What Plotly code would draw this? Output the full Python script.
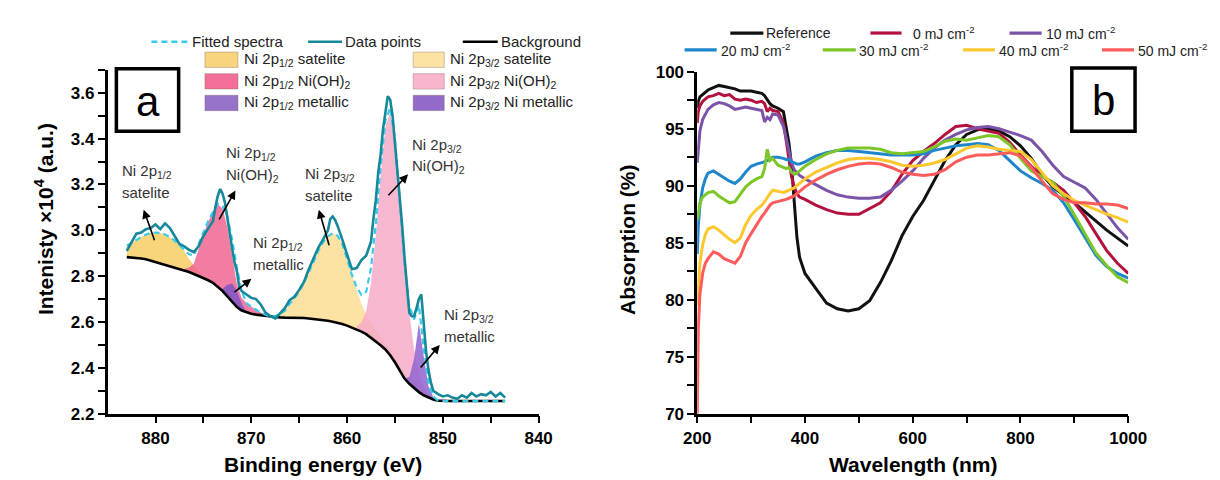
import plotly.graph_objects as go

# ---------------- Panel a : XPS Ni 2p ----------------
energy_grid = [883.0 - 0.5 * i for i in range(80)]  # 883.0 ... 843.5 eV
background = [
    2.883, 2.882, 2.880, 2.877, 2.874, 2.868, 2.862, 2.857, 2.851, 2.844,
    2.837, 2.832, 2.826, 2.818, 2.809, 2.801, 2.792, 2.782, 2.771, 2.755,
    2.735, 2.712, 2.688, 2.665, 2.650, 2.642, 2.636, 2.632, 2.629, 2.626,
    2.623, 2.621, 2.620, 2.619, 2.619, 2.618, 2.618, 2.617, 2.615, 2.613,
    2.611, 2.608, 2.605, 2.601, 2.597, 2.591, 2.584, 2.576, 2.567, 2.558,
    2.547, 2.532, 2.515, 2.498, 2.480, 2.455, 2.424, 2.388, 2.353, 2.330,
    2.311, 2.294, 2.280, 2.270, 2.262, 2.257, 2.255, 2.255, 2.255, 2.255,
    2.255, 2.255, 2.255, 2.255, 2.255, 2.255, 2.255, 2.255, 2.255, 2.255]

# component heights above background
sat12_x = [883.0, 882.5, 882.0, 881.5, 881.0, 880.5, 880.0, 879.5, 879.0, 878.5,
           878.0, 877.5, 877.0, 876.5, 876.0, 875.5, 875.0, 874.5, 874.0]
sat12_h = [0.05, 0.063, 0.08, 0.095, 0.108, 0.12, 0.128, 0.131, 0.131, 0.126,
           0.118, 0.103, 0.084, 0.057, 0.036, 0.019, 0.009, 0.004, 0.0]
oh12_x = [877.0, 876.5, 876.0, 875.5, 875.0, 874.5, 874.0, 873.5, 873.0, 872.5,
          872.0, 871.5, 871.0, 870.5, 870.0, 869.5, 869.0, 868.5]
oh12_h = [0.005, 0.02, 0.045, 0.12, 0.19, 0.255, 0.31, 0.36, 0.36, 0.30,
          0.19, 0.10, 0.055, 0.04, 0.03, 0.02, 0.012, 0.005]
met12_x = [873.0, 872.5, 872.0, 871.5, 871.0, 870.5]
met12_h = [0.01, 0.05, 0.08, 0.07, 0.03, 0.0]
sat32_x = [867.5, 867.0, 866.5, 866.0, 865.5, 865.0, 864.5, 864.0, 863.5, 863.0,
           862.5, 862.0, 861.5, 861.0, 860.5, 860.0, 859.5, 859.0, 858.5, 858.0,
           857.5, 857.0, 856.5, 856.0, 855.5, 855.0, 854.5, 854.0]
sat32_h = [0.005, 0.015, 0.03, 0.06, 0.085, 0.115, 0.155, 0.20, 0.25, 0.30,
           0.34, 0.37, 0.385, 0.38, 0.35, 0.29, 0.23, 0.17, 0.12, 0.085,
           0.065, 0.05, 0.038, 0.028, 0.02, 0.013, 0.007, 0.0]
oh32_x = [859.0, 858.5, 858.0, 857.5, 857.0, 856.5, 856.0, 855.5, 855.0, 854.5,
          854.0, 853.5, 853.0, 852.5, 852.0, 851.5, 851.0]
oh32_h = [0.015, 0.04, 0.10, 0.24, 0.46, 0.74, 0.97, 1.06, 0.96, 0.72,
          0.50, 0.31, 0.17, 0.08, 0.035, 0.012, 0.003]
met32_x = [854.0, 853.5, 853.0, 852.5, 852.0, 851.5, 851.0, 850.5]
met32_h = [0.0, 0.03, 0.13, 0.30, 0.17, 0.05, 0.01, 0.0]

data_x = [883.0, 882.5, 882.0, 881.5, 881.0, 880.5, 880.0, 879.5, 879.0, 878.5,
          878.0, 877.5, 877.0, 876.5, 876.0, 875.5, 875.0, 874.5, 874.0, 873.75,
          873.5, 873.25, 873.0, 872.75, 872.5, 872.25, 872.0, 871.75, 871.5, 871.25,
          871.0, 870.5, 870.0, 869.5, 869.0, 868.5, 868.0, 867.5, 867.0, 866.5,
          866.0, 865.5, 865.0, 864.5, 864.0, 863.5, 863.0, 862.5, 862.0, 861.75,
          861.5, 861.25, 861.0, 860.5, 860.0, 859.5, 859.0, 858.5, 858.0, 857.75,
          857.5, 857.25, 857.0, 856.75, 856.5, 856.25, 856.0, 855.75, 855.5, 855.25,
          855.0, 854.75, 854.5, 854.25, 854.0, 853.75, 853.5, 853.25, 853.0, 852.75,
          852.5, 852.25, 852.0, 851.75, 851.5, 851.25, 851.0, 850.5, 850.0, 849.5,
          849.0, 848.5, 848.0, 847.5, 847.0, 846.5, 846.0, 845.5, 845.0, 844.5,
          844.0, 843.5]
data_y = [2.91, 2.95, 2.985, 2.99, 3.005, 3.01, 3.025, 3.005, 3.03, 3.01,
          2.975, 2.94, 2.93, 2.915, 2.905, 2.93, 2.975, 3.01, 3.04, 3.10,
          3.15, 3.18, 3.16, 3.12, 3.05, 2.97, 2.92, 2.86, 2.82, 2.75,
          2.735, 2.72, 2.705, 2.70, 2.675, 2.64, 2.625, 2.615, 2.64, 2.66,
          2.695, 2.71, 2.74, 2.775, 2.83, 2.88, 2.925, 2.96, 3.00, 3.05,
          3.06, 3.045, 3.02, 2.96, 2.89, 2.83, 2.835, 2.87, 2.89, 2.92,
          2.95, 3.05, 3.13, 3.25, 3.33, 3.44, 3.52, 3.585, 3.57, 3.50,
          3.38, 3.27, 3.15, 3.02, 2.88, 2.75, 2.64, 2.625, 2.625, 2.66,
          2.70, 2.72, 2.60, 2.47, 2.39, 2.335, 2.30, 2.285, 2.275, 2.28,
          2.27, 2.265, 2.28, 2.27, 2.29, 2.275, 2.285, 2.28, 2.295, 2.275,
          2.29, 2.27]

# ---------------- Panel b : absorption ----------------
wavelength = [200, 202, 205, 210, 215, 220, 230, 240, 250, 260, 270, 280, 290, 300,
              310, 320, 325, 330, 335, 340, 350, 360, 365, 370, 375, 380, 385, 390,
              400, 420, 440, 460, 480, 500, 520, 540, 560, 580, 600, 620, 640, 660,
              680, 700, 720, 740, 760, 780, 800, 820, 840, 860, 880, 900, 920, 940,
              960, 980, 1000]
abs_reference = [96.8, 97.4, 97.8, 98.0, 98.2, 98.4, 98.6, 98.8, 98.7, 98.6, 98.5, 98.3, 98.3, 98.3,
                 98.2, 98.1, 97.9, 97.5, 97.2, 97.0, 96.8, 96.5, 95.3, 93.8, 91.8, 88.8, 85.5, 83.7,
                 82.3, 81.0, 79.7, 79.2, 79.0, 79.2, 79.9, 81.5, 83.4, 85.6, 87.3, 88.7, 90.4, 92.2,
                 93.6, 94.5, 94.9, 95.0, 94.8, 94.3, 93.5, 92.4, 91.0, 89.9, 89.2, 88.5, 87.7, 86.9,
                 86.1, 85.4, 84.7]
abs_0 = [95.5, 96.5, 97.0, 97.4, 97.6, 97.8, 97.9, 98.1, 97.9, 98.0, 97.6, 97.5, 97.6, 97.5,
         97.3, 97.4, 97.2, 96.5, 96.8, 96.6, 96.5, 95.5, 94.0, 92.3, 90.8, 89.9, 89.3, 89.0,
         88.8, 88.3, 87.9, 87.6, 87.5, 87.5, 88.0, 88.5, 89.5, 91.0, 92.2, 93.0, 93.7, 94.5,
         95.2, 95.3, 95.0, 94.8, 94.6, 93.8, 92.7, 91.7, 90.8, 90.3, 89.6, 88.5, 87.3, 85.8,
         84.3, 83.2, 82.3]
abs_10 = [92.0, 93.5, 94.8, 95.8, 96.3, 96.7, 97.1, 97.3, 97.2, 97.0, 96.7, 96.8, 96.9, 96.8,
          96.7, 96.6, 95.6, 96.0, 95.8, 96.3, 96.2, 95.2, 94.2, 93.0, 92.0, 91.4, 91.1, 90.9,
          90.6, 90.1, 89.6, 89.2, 89.0, 88.9, 88.9, 89.0, 89.6, 90.4, 91.3, 92.4, 93.3, 94.0,
          94.5, 94.9, 95.1, 95.2, 95.0, 94.7, 94.4, 94.0, 93.0, 91.8, 90.8, 90.3, 89.8, 88.8,
          87.5, 86.3, 85.3]
abs_20 = [84.0, 86.5, 88.3, 89.8, 90.6, 91.1, 91.3, 91.0, 90.7, 90.4, 90.2, 90.6, 91.2, 91.7,
          91.9, 92.0, 92.1, 92.2, 92.3, 92.5, 92.5, 92.4, 92.3, 92.3, 92.1, 92.0, 91.9, 91.9,
          92.1, 92.6, 92.9, 93.1, 93.1, 93.0, 92.9, 92.8, 92.7, 92.7, 92.7, 92.8, 93.1, 93.3,
          93.5, 93.6, 93.7, 93.6, 93.1, 92.2, 91.3, 90.7, 90.2, 89.6, 88.5, 87.0, 85.4, 83.9,
          82.9, 82.3, 81.9]
abs_30 = [87.0, 87.8, 88.5, 89.0, 89.2, 89.4, 89.5, 89.1, 88.8, 88.5, 88.6, 89.3, 89.9, 90.3,
          90.6, 90.8, 91.5, 93.2, 92.2, 92.4, 91.8, 91.6, 91.5, 91.6, 91.2, 91.0, 91.1, 91.3,
          91.7, 92.3, 92.8, 93.1, 93.3, 93.3, 93.3, 93.2, 92.9, 92.8, 92.9, 93.0, 93.4, 93.9,
          94.1, 94.0, 94.2, 94.4, 94.3, 93.6, 92.4, 91.3, 90.8, 90.3, 89.1, 87.4, 85.7, 84.1,
          83.0, 82.0, 81.5]
abs_40 = [79.5, 81.5, 83.2, 84.8, 85.7, 86.2, 86.4, 86.1, 85.7, 85.3, 85.0, 85.4, 86.6, 87.4,
          87.9, 88.3, 88.6, 89.0, 89.3, 89.6, 89.5, 89.4, 89.5, 89.6, 89.7, 89.8, 90.0, 90.2,
          90.6, 91.2, 91.6, 92.0, 92.3, 92.4, 92.4, 92.3, 92.1, 91.8, 91.7, 91.8, 92.0, 92.3,
          92.8, 93.3, 93.5, 93.4, 93.2, 93.1, 93.0, 92.3, 91.2, 90.0, 89.3, 88.7, 88.3, 87.9,
          87.5, 87.2, 86.8]
abs_50 = [70.0, 77.5, 80.5, 82.3, 83.2, 83.6, 84.2, 84.0, 83.6, 83.4, 83.2, 83.8, 85.0, 85.8,
          86.6, 87.3, 87.6, 88.0, 88.3, 88.5, 88.6, 88.7, 88.8, 88.9, 89.0, 89.1, 89.3, 89.5,
          89.9, 90.5, 91.0, 91.4, 91.7, 91.9, 92.0, 91.9, 91.6, 91.2, 91.0, 90.9, 91.0, 91.4,
          92.1, 92.5, 92.7, 92.7, 92.8, 92.9, 92.6, 91.6, 90.4, 89.3, 88.8, 88.5, 88.5, 88.4,
          88.4, 88.3, 88.0]

series_b = [
    ("Reference", abs_reference, "#111111"),
    ("0 mJ cm<sup>-2</sup>", abs_0, "#B3123E"),
    ("10 mJ cm<sup>-2</sup>", abs_10, "#7B54A9"),
    ("20 mJ cm<sup>-2</sup>", abs_20, "#1F86CC"),
    ("30 mJ cm<sup>-2</sup>", abs_30, "#7CC629"),
    ("40 mJ cm<sup>-2</sup>", abs_40, "#FDC72E"),
    ("50 mJ cm<sup>-2</sup>", abs_50, "#FF5B5B"),
]

components = [
    ("Ni 2p<sub>1/2</sub> satelite", sat12_x, sat12_h, "rgba(247,207,105,0.88)", "#F8D47E"),
    ("Ni 2p<sub>3/2</sub> satelite", sat32_x, sat32_h, "rgba(252,222,150,0.88)", "#FCE2A3"),
    ("Ni 2p<sub>1/2</sub> Ni(OH)<sub>2</sub>", oh12_x, oh12_h, "rgba(240,96,142,0.82)", "#F46F98"),
    ("Ni 2p<sub>3/2</sub> Ni(OH)<sub>2</sub>", oh32_x, oh32_h, "rgba(247,170,200,0.85)", "#F9B5CD"),
    ("Ni 2p<sub>1/2</sub> metallic", met12_x, met12_h, "rgba(138,88,196,0.92)", "#9673C9"),
    ("Ni 2p<sub>3/2</sub> Ni metallic", met32_x, met32_h, "rgba(148,102,208,0.88)", "#9369CA"),
]

W, H = 1220, 480


def px(x):
    return x / W


def py(y):
    return 1 - y / H


bg_at = dict(zip(energy_grid, background))
fitted = list(background)
idx = {e: i for i, e in enumerate(energy_grid)}

fig = go.Figure()

for name, cx, ch, fillc, _ in components:
    top = [bg_at[x] + h for x, h in zip(cx, ch)]
    base = [bg_at[x] for x in cx]
    for x, h in zip(cx, ch):
        fitted[idx[x]] += h
    fig.add_trace(go.Scatter(x=cx + cx[::-1], y=top + base[::-1], fill="toself",
                             fillcolor=fillc, line=dict(width=0), mode="lines",
                             showlegend=False, hoverinfo="skip", xaxis="x", yaxis="y"))

fig.add_trace(go.Scatter(x=energy_grid, y=background, mode="lines",
                         line=dict(color="black", width=2.6), showlegend=False,
                         xaxis="x", yaxis="y"))
fig.add_trace(go.Scatter(x=energy_grid, y=fitted, mode="lines",
                         line=dict(color="#3ACBEA", width=2.2, dash="6px,4px"), showlegend=False,
                         xaxis="x", yaxis="y"))
fig.add_trace(go.Scatter(x=data_x, y=data_y, mode="lines",
                         line=dict(color="#17879A", width=2.6), showlegend=False,
                         xaxis="x", yaxis="y"))

for name, vals, col in series_b:
    fig.add_trace(go.Scatter(x=wavelength, y=vals, mode="lines",
                             line=dict(color=col, width=3), showlegend=False,
                             xaxis="x2", yaxis="y2"))

tickfont = dict(family="Liberation Sans, Arial", size=17, color="black")
axis_common = dict(showline=True, linewidth=2.5, linecolor="black", ticks="outside",
                   ticklen=7, tickwidth=2, tickcolor="black", showgrid=False,
                   zeroline=False, tickfont=tickfont)


def minor(vals):
    return dict(tickvals=vals, ticks="outside", ticklen=7, tickwidth=2,
                tickcolor="black", showgrid=False)


def bold(labels):
    return ["<b>%s</b>" % s for s in labels]


x_a_ticks = [880, 870, 860, 850, 840]
y_a_ticks = [2.2, 2.4, 2.6, 2.8, 3.0, 3.2, 3.4, 3.6]
x_b_ticks = [200, 400, 600, 800, 1000]
y_b_ticks = [70, 75, 80, 85, 90, 95, 100]

fig.update_layout(
    width=W, height=H, margin=dict(l=0, r=0, t=0, b=0),
    paper_bgcolor="white", plot_bgcolor="white", showlegend=False,
    xaxis=dict(domain=[px(88), px(531)], range=[885, 840], anchor="y",
               tickvals=x_a_ticks, ticktext=bold([str(v) for v in x_a_ticks]),
               minor=minor([875, 865, 855, 845]), **axis_common),
    yaxis=dict(domain=[py(413), py(55)], range=[2.2, 3.7], anchor="x",
               tickvals=y_a_ticks, ticktext=bold(["%.1f" % v for v in y_a_ticks]),
               minor=minor([2.3, 2.5, 2.7, 2.9, 3.1, 3.3, 3.5, 3.7]), **axis_common),
    xaxis2=dict(domain=[px(694), px(1137)], range=[200, 1000], anchor="y2",
                tickvals=x_b_ticks, ticktext=bold([str(v) for v in x_b_ticks]),
                minor=minor([300, 500, 700, 900]), **axis_common),
    yaxis2=dict(domain=[py(413), py(57)], range=[70, 100], anchor="x2",
                tickvals=y_b_ticks, ticktext=bold([str(v) for v in y_b_ticks]),
                minor=minor([72.5, 77.5, 82.5, 87.5, 92.5, 97.5]), **axis_common),
)

ann = []
shapes = []
leg_font = dict(family="Liberation Sans, Arial", size=15, color="#222222")
legb_font = dict(family="Liberation Sans, Arial", size=14, color="#222222")
lab_font = dict(family="Liberation Sans, Arial", size=15, color="#333333")
title_font = dict(family="Liberation Sans, Arial", size=21, color="black")


def text(x, y, t, font=leg_font, xanchor="left", **kw):
    ann.append(dict(x=px(x), y=py(y), xref="paper", yref="paper", text=t, showarrow=False,
                    xanchor=xanchor, yanchor="middle", font=font, **kw))


# axis titles
text(22, 210, "<b>Intenisty ×10<sup>4</sup> (a.u.)</b>", title_font, "center", textangle=-90)
text(309.5, 466, "<b>Binding energy (eV)</b>", title_font, "center")
text(623, 232, "<b>Absorption (%)</b>", title_font, "center", textangle=-90)
text(915.5, 466, "<b>Wavelength (nm)</b>", title_font, "center")

# panel a legend, row 1 (lines)
row1 = [(133, 172, "Fitted spectra", "#3ACBEA", "6px,4px"),
        (294, 329, "Data points", "#17879A", "solid"),
        (453, 489, "Background", "black", "solid")]
for x0, x1, t, c, d in row1:
    shapes.append(dict(type="line", xref="paper", yref="paper", x0=px(x0), x1=px(x1),
                       y0=py(25.7), y1=py(25.7), line=dict(color=c, width=2.6, dash=d)))
    text(x1 + 1, 25.7, t)

# panel a legend, boxes (two columns, three rows)
box_pos = [(188, 222, 44.5), (402, 434, 44.5), (188, 222, 67), (402, 434, 67),
           (188, 222, 89.5), (402, 434, 89.5)]
for (x0, x1, yc), comp in zip(box_pos, components):
    name, _, _, _, col = comp
    shapes.append(dict(type="rect", xref="paper", yref="paper", x0=px(x0), x1=px(x1),
                       y0=py(yc + 8), y1=py(yc - 8), fillcolor=col,
                       line=dict(color="rgba(120,100,90,0.35)", width=1)))
    text(x1 + 4, yc, name)

# panel a peak labels and arrows
labels = [(100.7, 161, "Ni 2p<sub>1/2</sub>"), (100.7, 183, "satelite"),
          (207.7, 142, "Ni 2p<sub>1/2</sub>"), (207.7, 165, "Ni(OH)<sub>2</sub>"),
          (235.7, 236, "Ni 2p<sub>1/2</sub>"), (235.7, 258, "metallic"),
          (288.3, 164, "Ni 2p<sub>3/2</sub>"), (288.3, 186, "satelite"),
          (398.3, 134, "Ni 2p<sub>3/2</sub>"), (398.3, 156, "Ni(OH)<sub>2</sub>"),
          (431.7, 311, "Ni 2p<sub>3/2</sub>"), (431.7, 333, "metallic")]
for x, y, t in labels:
    text(x, y, t, lab_font)

arrows = [((881.24, 3.09), (880.05, 2.95)),
          ((871.66, 3.174), (873.44, 3.041)),
          ((869.99, 2.788), (871.92, 2.725)),
          ((862.95, 3.09), (861.83, 2.928)),
          ((853.63, 3.244), (855.83, 3.146)),
          ((850.32, 2.50), (852.45, 2.395))]
for (hx, hy), (tx, ty) in arrows:
    ann.append(dict(x=hx, y=hy, ax=tx, ay=ty, xref="x", yref="y", axref="x", ayref="y",
                    text="", showarrow=True, arrowhead=2, arrowsize=1.1, arrowwidth=1.6,
                    arrowcolor="black"))

# panel labels a / b
for (x0, x1, y0, y1, t) in [(97, 161, 54, 119, "a"), (1079, 1144, 53, 119, "b")]:
    shapes.append(dict(type="rect", xref="paper", yref="paper", x0=px(x0), x1=px(x1),
                       y0=py(y1), y1=py(y0), line=dict(color="black", width=3.5),
                       fillcolor="white"))
    text((x0 + x1) / 2, (y0 + y1) / 2 + 1, t,
         dict(family="Liberation Sans, Arial", size=42, color="black"), "center")

# panel b legend
leg_b = [(728, 762, 763, 16.7), (872, 904, 914, 16.7), (1015, 1048, 1050, 16.7),
         (681, 714, 716, 34.3), (823, 857, 858, 34.3), (967, 1000, 1002, 34.3),
         (1110, 1143, 1145, 34.3)]
for (x0, x1, xt, y), (name, _, col) in zip(leg_b, series_b):
    shapes.append(dict(type="line", xref="paper", yref="paper", x0=px(x0), x1=px(x1),
                       y0=py(y), y1=py(y), line=dict(color=col, width=3.2)))
    text(xt, y, name, legb_font)

fig.update_layout(annotations=ann, shapes=shapes)
fig.write_html("out.html")
